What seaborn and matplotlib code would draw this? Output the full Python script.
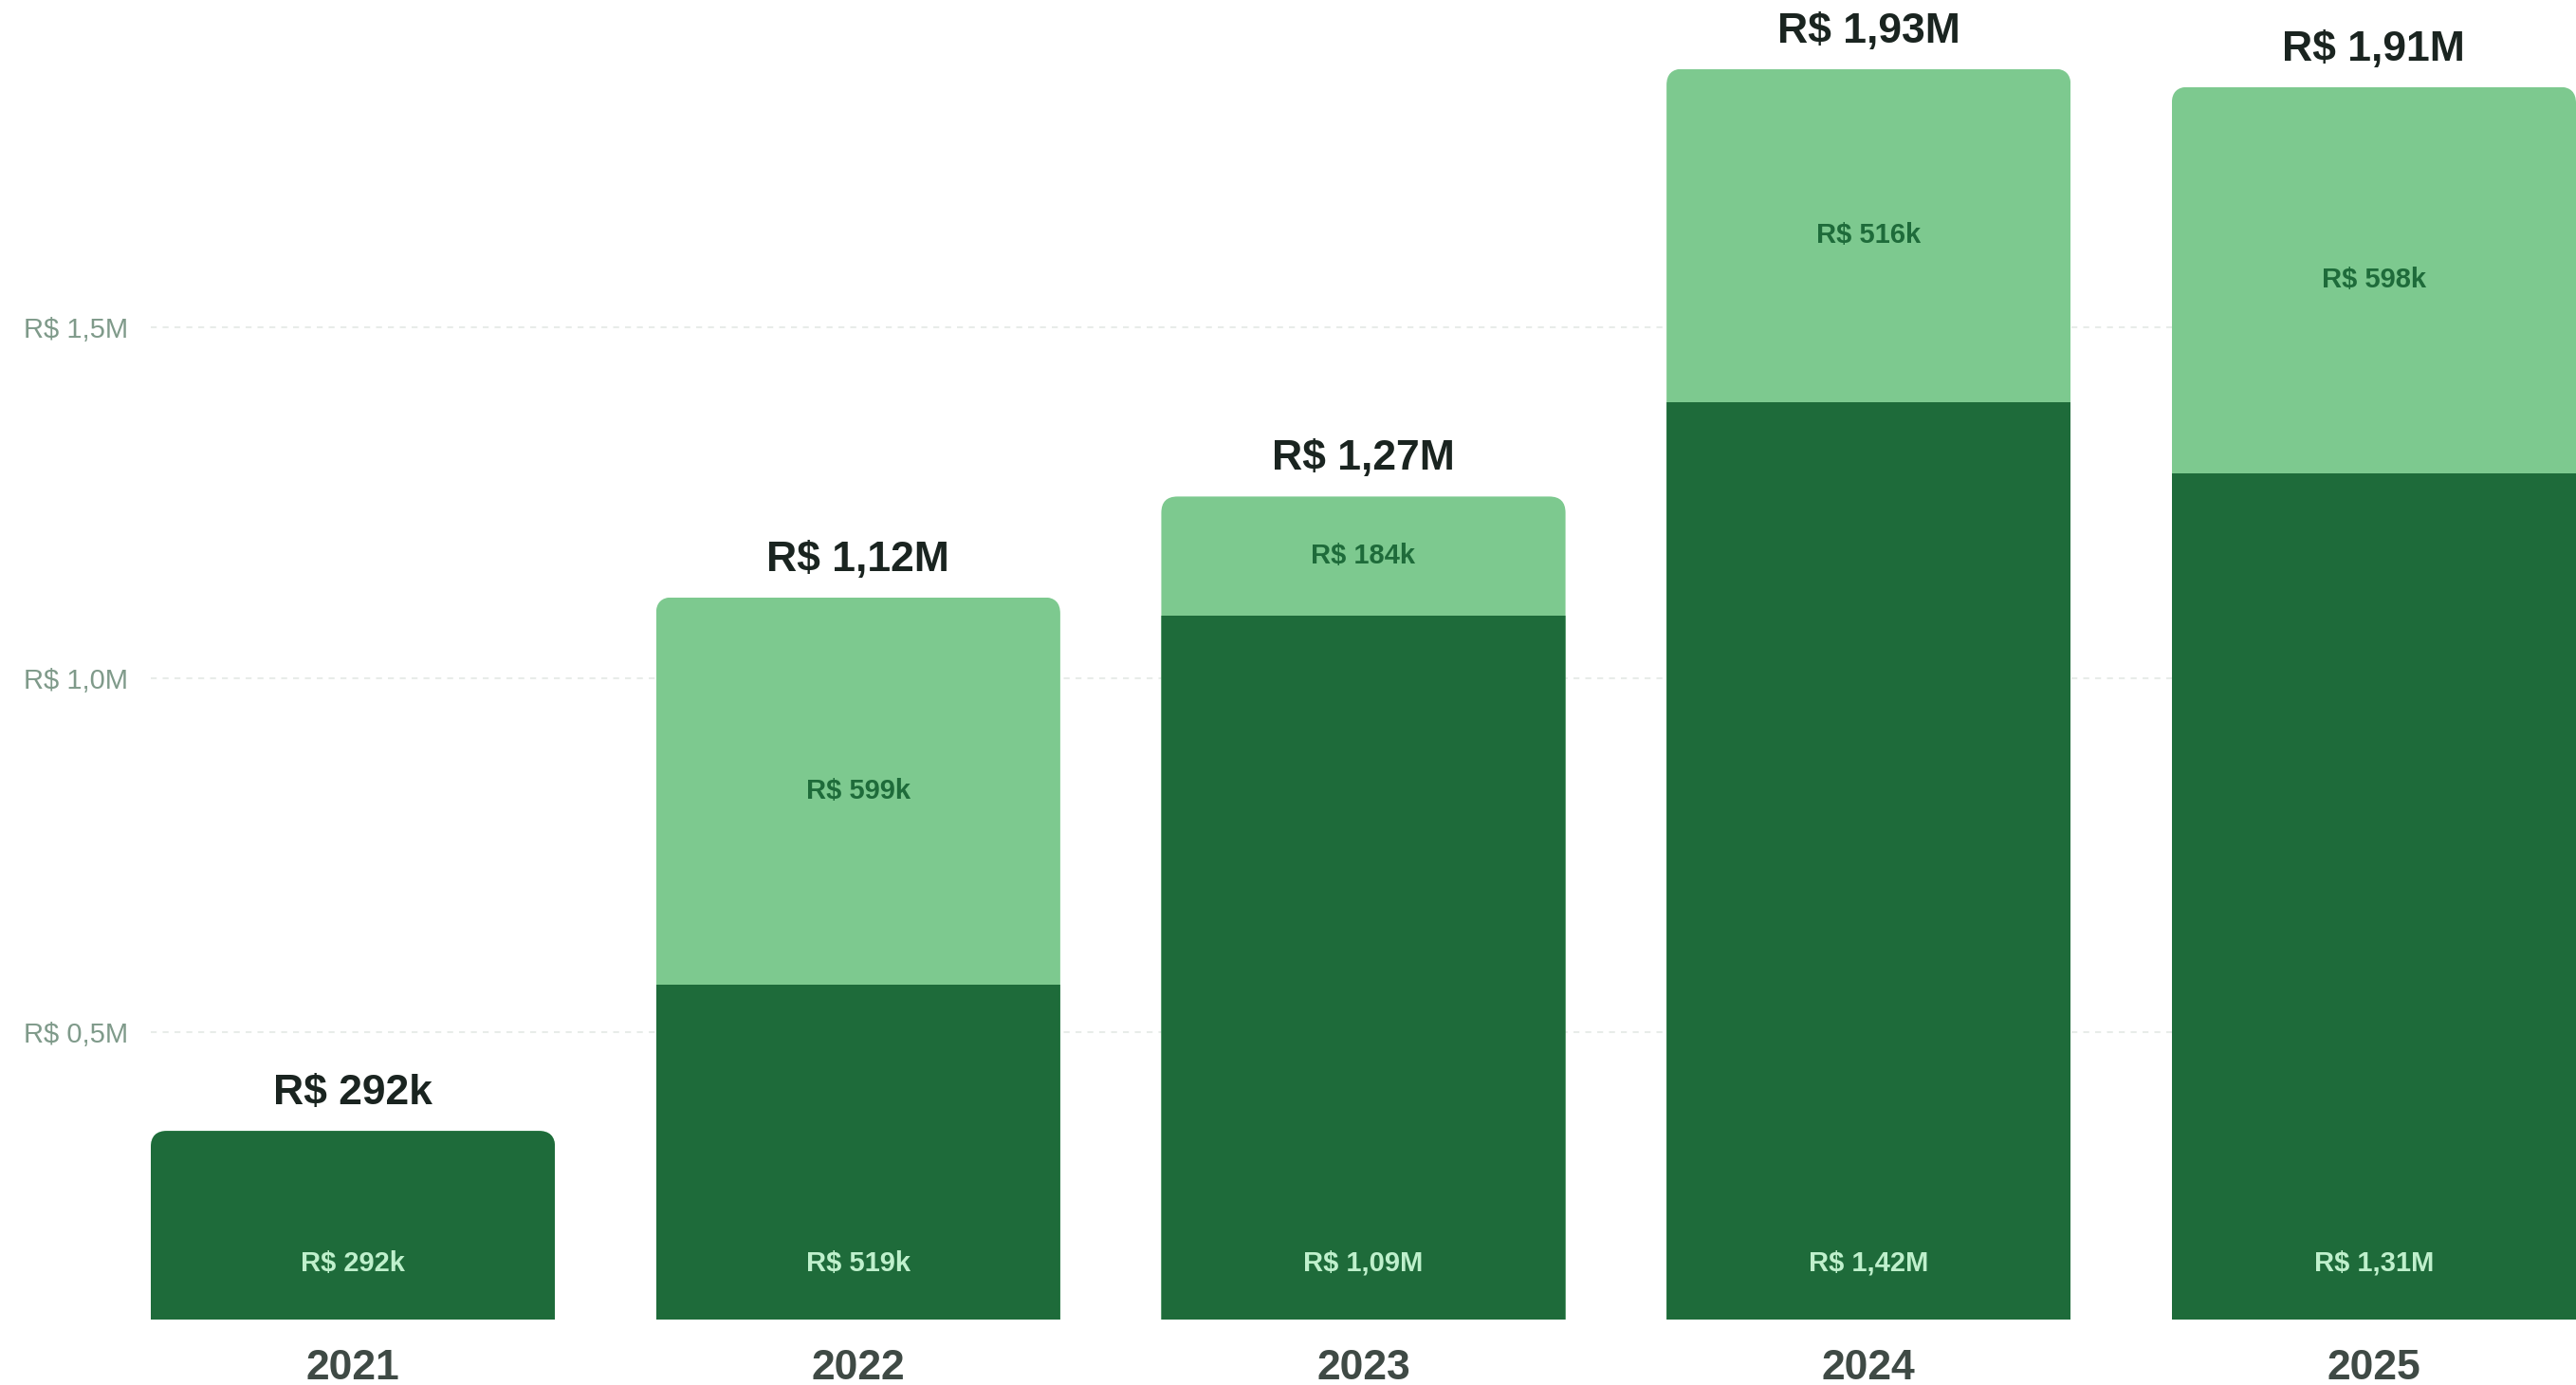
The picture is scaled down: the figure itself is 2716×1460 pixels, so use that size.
import numpy as np
import pandas as pd
import seaborn as sns
import matplotlib.pyplot as plt
from matplotlib.patches import FancyBboxPatch

years = ["2021", "2022", "2023", "2024", "2025"]
dark_vals = [0.292, 0.519, 1.09, 1.42, 1.31]      # R$ milhoes
light_vals = [0.0, 0.599, 0.184, 0.516, 0.598]
total_labels = ["R$ 292k", "R$ 1,12M", "R$ 1,27M", "R$ 1,93M", "R$ 1,91M"]
dark_labels = ["R$ 292k", "R$ 519k", "R$ 1,09M", "R$ 1,42M", "R$ 1,31M"]
light_labels = ["", "R$ 599k", "R$ 184k", "R$ 516k", "R$ 598k"]
# gridlines sit where the original drew them
ytick_pos = [0.445, 0.992, 1.536]
ytick_labels = ["R$ 0,5M", "R$ 1,0M", "R$ 1,5M"]

DARK = "#1e6b3a"
LIGHT = "#7dc98f"

df = pd.DataFrame({"ano": years, "dark": dark_vals, "light": light_vals})
df["total"] = df["dark"] + df["light"]

sns.set_theme(style="white")
plt.rcParams["font.family"] = ["Liberation Sans", "DejaVu Sans"]

fig = plt.figure(figsize=(27.16, 14.6), dpi=100)
ax = fig.add_axes([159 / 2716, 69 / 1460, 1 - 159 / 2716, 1391 / 1460])

sns.barplot(data=df, x="ano", y="total", color=LIGHT, saturation=1, width=0.8, ax=ax, zorder=2)
sns.barplot(data=df, x="ano", y="dark", color=DARK, saturation=1, width=0.8, ax=ax, zorder=3)

ax.set_xlim(-0.4, 4.4)
ax.set_ylim(0, 1391 / 681)

# rounded top corners: clip each column with a rounded box
r = 0.032
for i, p in enumerate(ax.patches):
    col = i % len(years)
    x0 = p.get_x()
    w = p.get_width()
    top = df["total"].iloc[col]
    clip = FancyBboxPatch((x0, -0.2), w, top + 0.2,
                          boxstyle=f"round,pad=0,rounding_size={r}",
                          mutation_aspect=533.5 / 681,
                          transform=ax.transData, facecolor="none", edgecolor="none")
    p.set_clip_path(clip)
    p.set_linewidth(0)

for i in range(len(years)):
    ax.text(i, df["total"].iloc[i] + 0.058, total_labels[i], ha="center", va="center",
            fontsize=32, fontweight="bold", color="#1a2420", zorder=5)
    ax.text(i, 0.087, dark_labels[i], ha="center", va="center",
            fontsize=21, fontweight="bold", color="#bff0cc", zorder=5)
    if light_labels[i]:
        ax.text(i, dark_vals[i] + light_vals[i] / 2, light_labels[i], ha="center", va="center",
                fontsize=21, fontweight="bold", color=DARK, zorder=5)

ax.set_yticks(ytick_pos)
ax.set_yticklabels(ytick_labels, fontsize=21, color="#7f9a8a")
ax.tick_params(axis="y", length=0, pad=17)
ax.tick_params(axis="x", length=0, pad=22)
for lab in ax.get_xticklabels():
    lab.set_fontsize(32)
    lab.set_fontweight("bold")
    lab.set_color("#3f4a45")

ax.yaxis.grid(True, color="#e8ece9", linestyle=(0, (3, 3)), linewidth=1.5, zorder=0)
ax.set_axisbelow(True)
ax.set_xlabel("")
ax.set_ylabel("")
for s in ax.spines.values():
    s.set_visible(False)

fig.savefig("out.png", dpi=100)
